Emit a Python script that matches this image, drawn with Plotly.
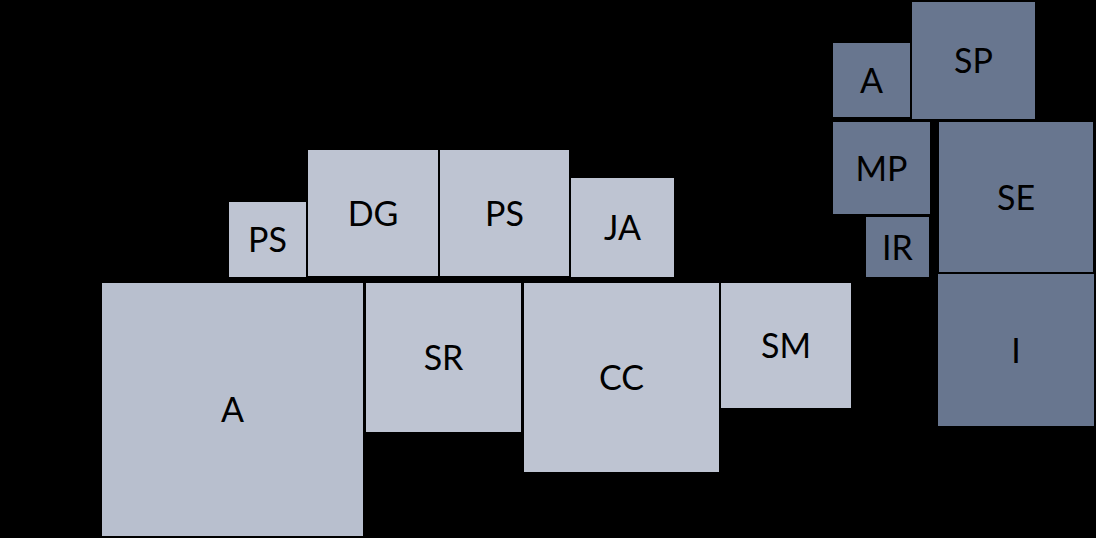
import plotly.graph_objects as go

# Mosaic blocks: label, left, right, top, bottom (in canvas units), group
labels = ["PS", "DG", "PS", "JA", "A", "SR", "CC", "SM",
          "A", "SP", "MP", "IR", "SE", "I"]
x_left = [229, 308, 440, 571, 102, 366, 524, 721,
          833, 912, 833, 866, 939, 938]
x_right = [306, 438, 569, 674, 363, 521, 719, 851,
           910, 1035, 930, 929, 1093, 1094]
y_top = [202, 150, 150, 178, 283, 283, 283, 283,
         43, 2, 122, 217, 122, 274]
y_bottom = [277, 276, 276, 277, 536, 432, 472, 408,
            117, 119, 214, 277, 272, 426]
groups = ["L", "L", "L", "L", "L0", "L", "L", "L",
          "R", "R", "R", "R", "R", "R"]

colors = {"L": "#BEC4D2", "L0": "#B8BFCE", "R": "#68768F"}

fig = go.Figure()
for lab, a, b, t, btm, g in zip(labels, x_left, x_right, y_top, y_bottom, groups):
    fig.add_trace(go.Scatter(
        x=[a, b, b, a, a], y=[t, t, btm, btm, t],
        mode="lines", fill="toself", fillcolor=colors[g],
        line=dict(width=0, color=colors[g]),
        hoverinfo="skip", showlegend=False))
    fig.add_trace(go.Scatter(
        x=[(a + b) / 2], y=[(t + btm) / 2 + 4], mode="text", text=[lab],
        textposition="middle center",
        textfont=dict(family="Lato, Open Sans, sans-serif", size=34, color="#000000"),
        hoverinfo="skip", showlegend=False))

fig.update_layout(
    width=1096, height=538,
    margin=dict(l=0, r=0, t=0, b=0),
    paper_bgcolor="#000000", plot_bgcolor="#000000",
    xaxis=dict(range=[0, 1096], visible=False, fixedrange=True),
    yaxis=dict(range=[538, 0], visible=False, fixedrange=True),
)
fig.write_html(
    "out.html",
    config={"displayModeBar": False},
    post_script=("document.body.style.margin='0';"
                 "document.body.style.background='#000';"
                 "document.body.style.overflow='hidden';"),
)
